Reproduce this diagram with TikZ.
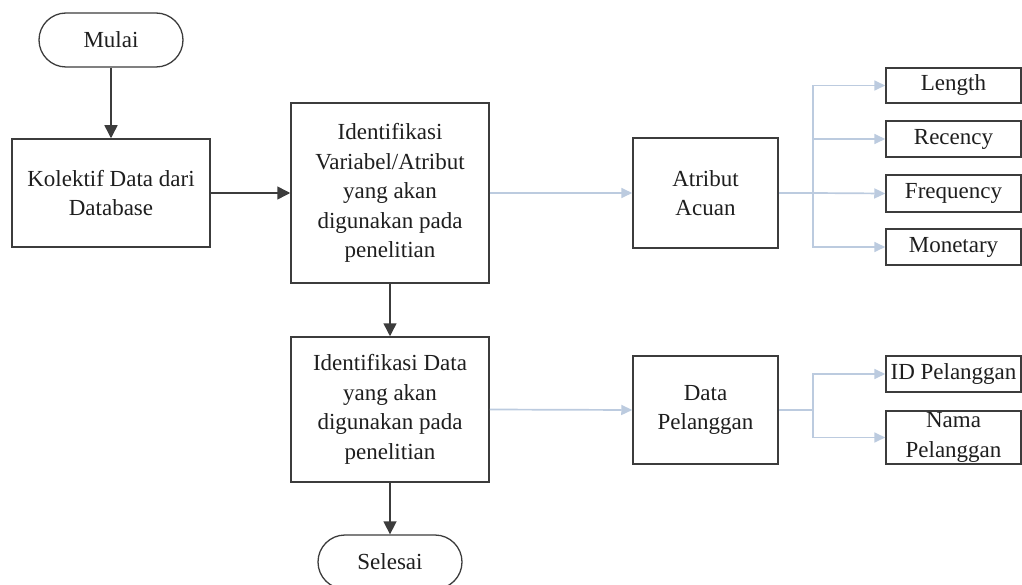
\documentclass[tikz,border=0pt]{standalone}
\usepackage{fontspec}
\setmainfont{Liberation Serif}
\usetikzlibrary{arrows.meta}
\definecolor{edge}{HTML}{3C3C3C}
\definecolor{lite}{HTML}{BCCBDF}
\definecolor{ink}{HTML}{1E1E1E}
\begin{document}
\begin{tikzpicture}[x=1pt,y=-1pt,
  every node/.style={text=ink,font=\fontsize{23}{29.5}\selectfont,align=center,inner sep=0pt},
  box/.style={draw=edge,line width=1.5pt,rectangle},
  term/.style={draw=edge,line width=1.3pt,rectangle,rounded corners=27pt,minimum width=144pt,minimum height=54pt},
  flow/.style={draw=edge,line width=1.5pt,-{Triangle[length=13pt,width=13pt]}},
  soft/.style={draw=lite,line width=1.7pt},
  softarrow/.style={soft,-{Triangle[length=11pt,width=10pt]}}]
\useasboundingbox (0,0) rectangle (1022,585);
\clip (0,0) rectangle (1022,585);

% main column
\node[term] (mulai) at (111,40) {Mulai};
\node[box,minimum width=198pt,minimum height=108pt] (kol) at (111,193) {Kolektif Data dari\\Database};
\node[box,minimum width=198pt,minimum height=180pt] (idvar) at (390,193) {Identifikasi\\Variabel/Atribut\\yang akan\\digunakan pada\\penelitian};
\node[box,minimum width=198pt,minimum height=145pt] (iddata) at (390,409.5) {Identifikasi Data\\yang akan\\digunakan pada\\penelitian};
\node[term] (selesai) at (390,562) {Selesai};

\draw[flow] (mulai.south) -- (kol.north);
\draw[flow] (kol.east) -- (idvar.west);
\draw[flow] (idvar.south) -- (iddata.north);
\draw[flow] (iddata.south) -- (selesai.north);

% attribute branch
\node[box,minimum width=145pt,minimum height=110pt] (acuan) at (705.5,193) {Atribut\\Acuan};
\node[box,minimum width=135pt,minimum height=35pt] (len) at (953.5,85.5) {Length};
\node[box,minimum width=135pt,minimum height=36pt] (rec) at (953.5,139) {Recency};
\node[box,minimum width=135pt,minimum height=37pt] (freq) at (953.5,193.5) {Frequency};
\node[box,minimum width=135pt,minimum height=36pt] (mon) at (953.5,247) {Monetary};
\coordinate (ja) at (813,193);

\draw[softarrow] (idvar.east) -- (acuan.west);
\draw[soft] (acuan.east) -- (ja);
\draw[softarrow] (ja) |- (len.west);
\draw[softarrow] (ja) |- (rec.west);
\draw[softarrow] (ja) -- (freq.west);
\draw[softarrow] (ja) |- (mon.west);

% customer data branch
\node[box,minimum width=145pt,minimum height=108pt] (pel) at (705.5,410) {Data\\Pelanggan};
\node[box,minimum width=135pt,minimum height=36pt] (idp) at (953.5,374) {ID Pelanggan};
\node[box,minimum width=135pt,minimum height=53pt] (nama) at (953.5,437.5) {Nama\\Pelanggan};
\coordinate (jp) at (813,410);

\draw[softarrow] (iddata.east) -- (pel.west);
\draw[soft] (pel.east) -- (jp);
\draw[softarrow] (jp) |- (idp.west);
\draw[softarrow] (jp) |- (nama.west);
\end{tikzpicture}
\end{document}
